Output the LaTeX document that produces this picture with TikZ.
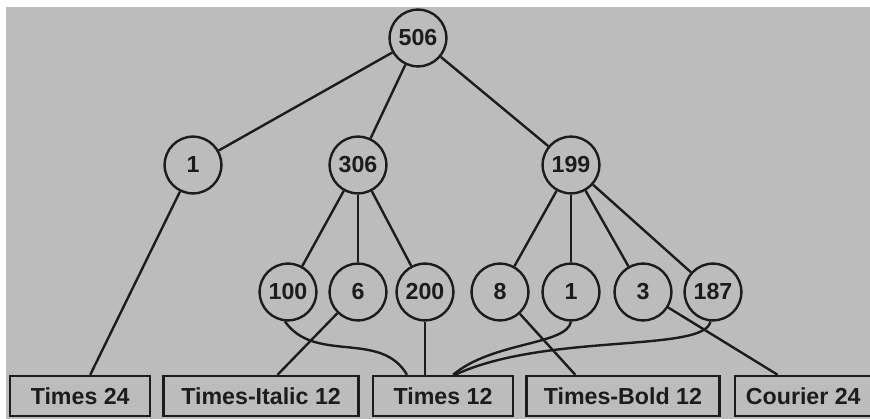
\documentclass[tikz,border=0pt]{standalone}
\usepackage{fontspec}
\setmainfont{Liberation Sans}
\usepackage{tikz}
\usetikzlibrary{positioning}
\definecolor{ink}{HTML}{1C1C1C}
\definecolor{paper}{HTML}{BCBCBC}
\tikzset{
  cntnode/.style={circle,on grid,draw=ink,line width=1.7pt,text=ink,
    font=\bfseries\fontsize{16.5}{19}\selectfont,minimum size=1.42cm,inner sep=0pt},
  fontbox/.style={rectangle,draw=ink,line width=1.7pt,text=ink,
    font=\bfseries\fontsize{16.5}{19}\selectfont,minimum height=1cm,inner sep=0pt},
  treeedge/.style={line width=1.7pt,color=ink},
}

\begin{document}
\begin{tikzpicture}[node distance=3.175cm]
  \useasboundingbox (0,0) rectangle (21.75,-10.475);
  \fill[paper] (0.15,-0.175) rectangle (21.75,-10.475);

  % count tree
  \node[cntnode] (root) at (10.45,-0.95) {506};
  \node[cntnode, below left=3.175cm and 5.625cm of root] (n1a) {1};
  \node[cntnode, below left=3.175cm and 1.5cm of root] (n306) {306};
  \node[cntnode, below right=3.175cm and 3.825cm of root] (n199) {199};

  \node[cntnode, below=of n306] (n6) {6};
  \node[cntnode, left=1.75cm of n6] (n100) {100};
  \node[cntnode, right=1.675cm of n6] (n200) {200};
  \node[cntnode, below=of n199] (n1b) {1};
  \node[cntnode, left=1.775cm of n1b] (n8) {8};
  \node[cntnode, right=1.8cm of n1b] (n3) {3};
  \node[cntnode, right=1.75cm of n3] (n187) {187};

  % fonts
  \node[fontbox, on grid, minimum width=3.5cm, below=2.6cm of n200, xshift=0.45cm] (t12) {Times 12};
  \node[fontbox, minimum width=4.875cm, left=0.3cm of t12] (ti12) {Times-Italic 12};
  \node[fontbox, minimum width=3.5cm, left=0.275cm of ti12] (t24) {Times 24};
  \node[fontbox, minimum width=4.825cm, right=0.275cm of t12] (tb12) {Times-Bold 12};
  \node[fontbox, minimum width=3.425cm, right=0.325cm of tb12] (c24) {Courier 24};

  \draw[treeedge] (root) -- (n1a);
  \draw[treeedge] (root) -- (n306);
  \draw[treeedge] (root) -- (n199);
  \draw[treeedge] (n306) -- (n100);
  \draw[treeedge] (n306) -- (n6);
  \draw[treeedge] (n306) -- (n200);
  \draw[treeedge] (n199) -- (n8);
  \draw[treeedge] (n199) -- (n1b);
  \draw[treeedge] (n199) -- (n3);
  \draw[treeedge] (n199) -- (n187);

  \draw[treeedge] (n1a) -- ([xshift=0.25cm]t24.north);
  \draw[treeedge] (n6) -- ([xshift=0.41cm]ti12.north);
  \draw[treeedge] (n100.-96) to[out=-55,in=120] ([xshift=-0.9cm]t12.north);
  \draw[treeedge] (n200) -- (n200 |- t12.north);
  \draw[treeedge] (n1b.south) .. controls +(-100:0.6cm) and +(40:1.3cm) .. ([xshift=0.25cm]t12.north);
  \draw[treeedge] (n187.-95) .. controls +(-100:0.8cm) and +(25:2.5cm) .. ([xshift=0.3cm]t12.north);
  \draw[treeedge] (n8) -- ([xshift=-1.19cm]tb12.north);
  \draw[treeedge] (n3) -- ([xshift=-0.64cm]c24.north);
\end{tikzpicture}
\end{document}
